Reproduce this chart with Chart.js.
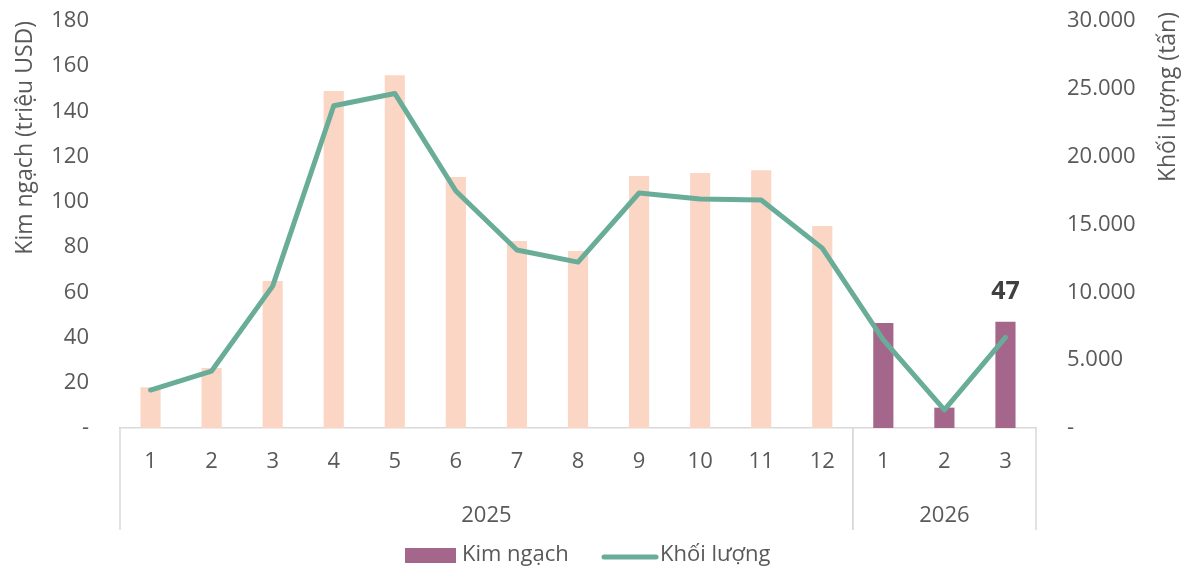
<!DOCTYPE html>
<html>
<head>
<meta charset="utf-8">
<script src="https://cdn.jsdelivr.net/npm/chart.js@4"></script>
<style>
  html, body { margin: 0; padding: 0; background: #fff; }
  #wrap { width: 1183px; height: 569px; }
</style>
</head>
<body>
<div id="wrap"><canvas id="chart" width="1183" height="569"></canvas></div>
<script>
// tháng theo từng năm
var months = ["1","2","3","4","5","6","7","8","9","10","11","12","1","2","3"];
var yearGroups = [
  { label: "2025", from: 0, to: 11 },
  { label: "2026", from: 12, to: 14 }
];
// kim ngạch (triệu USD)
var kimNgach = [18, 26.5, 65, 149, 156, 111, 82.7, 78.3, 111.5, 112.8, 114, 89.3, 46.4, 9, 47];
// khối lượng (tấn)
var khoiLuong = [2800, 4200, 10460, 23750, 24660, 17470, 13120, 12230, 17320, 16880, 16800, 13260, 6500, 1330, 6680];
var leftTicks = [0, 20, 40, 60, 80, 100, 120, 140, 160, 180];
var rightTicks = [0, 5000, 10000, 15000, 20000, 25000, 30000];

var PEACH = "#FBD6C5";
var PURPLE = "#A4668B";
var GREEN = "#69AD99";
var TEXT = "#595959";
var FONT = "'Open Sans', sans-serif";

var barColors = kimNgach.map(function(v, i){ return i >= 12 ? PURPLE : PEACH; });

function fmt(v){
  if (v === 0) return "-";
  return String(v).replace(/\B(?=(\d{3})+(?!\d))/g, ".");
}

// trục y: độ rộng cố định, bỏ padding trên/dưới để vùng vẽ sát mép
function fixY(w){
  return function(s){
    s.width = w;
    s.paddingTop = 0;
    s.paddingBottom = 0;
  };
}

// năm + đường phân cách dưới trục x
var yearAxis = {
  id: "yearAxis",
  afterDraw: function(chart){
    var ctx = chart.ctx, x = chart.scales.x, area = chart.chartArea;
    var step = x.getPixelForValue(1) - x.getPixelForValue(0);
    ctx.save();
    ctx.strokeStyle = "#D9D9D9";
    ctx.lineWidth = 1.5;
    ctx.fillStyle = TEXT;
    ctx.font = "22px " + FONT;
    ctx.textAlign = "center";
    ctx.textBaseline = "middle";
    yearGroups.forEach(function(g){
      var l = x.getPixelForValue(g.from) - step / 2;
      var r = x.getPixelForValue(g.to) + step / 2;
      [l, r].forEach(function(px){
        ctx.beginPath();
        ctx.moveTo(px, area.bottom);
        ctx.lineTo(px, area.bottom + 102);
        ctx.stroke();
      });
      ctx.fillText(g.label, (l + r) / 2, area.bottom + 88);
    });
    ctx.restore();
  }
};

// tiêu đề trục phải (xoay dọc, đọc từ dưới lên)
var rightTitle = {
  id: "rightTitle",
  afterDraw: function(chart){
    var ctx = chart.ctx;
    ctx.save();
    ctx.translate(1168, 12);
    ctx.rotate(-Math.PI / 2);
    ctx.fillStyle = TEXT;
    ctx.font = "23px " + FONT;
    ctx.textAlign = "right";
    ctx.textBaseline = "middle";
    ctx.fillText("Khối lượng (tấn)", 0, 0);
    ctx.restore();
  }
};

// nhãn giá trị cho cột cuối
var lastLabel = {
  id: "lastLabel",
  afterDatasetsDraw: function(chart){
    var meta = chart.getDatasetMeta(0);
    var i = kimNgach.length - 1;
    var bar = meta.data[i];
    var ctx = chart.ctx;
    ctx.save();
    ctx.fillStyle = "#404040";
    ctx.font = "bold 25px " + FONT;
    ctx.textAlign = "center";
    ctx.textBaseline = "bottom";
    ctx.fillText(String(kimNgach[i]), bar.x, bar.y - 17);
    ctx.restore();
  }
};

// chú thích
var legendBox = {
  id: "legendBox",
  afterDraw: function(chart){
    var ctx = chart.ctx;
    var y = 555;
    ctx.save();
    ctx.font = "22px " + FONT;
    ctx.textBaseline = "middle";
    ctx.fillStyle = PURPLE;
    ctx.fillRect(405, 548, 51, 15);
    ctx.fillStyle = TEXT;
    ctx.fillText(chart.data.datasets[0].label, 462, y);
    ctx.strokeStyle = GREEN;
    ctx.lineWidth = 5;
    ctx.lineCap = "round";
    ctx.beginPath();
    ctx.moveTo(604, y + 2);
    ctx.lineTo(656, y + 2);
    ctx.stroke();
    ctx.fillText(chart.data.datasets[1].label, 660, y);
    ctx.restore();
  }
};

new Chart(document.getElementById("chart"), {
  type: "bar",
  data: {
    labels: months,
    datasets: [
      {
        label: "Kim ngạch",
        data: kimNgach,
        backgroundColor: barColors,
        yAxisID: "y",
        barPercentage: 0.33,
        categoryPercentage: 1,
        order: 1
      },
      {
        type: "line",
        label: "Khối lượng",
        data: khoiLuong,
        borderColor: GREEN,
        borderWidth: 5,
        pointRadius: 0,
        tension: 0,
        borderJoinStyle: "round",
        borderCapStyle: "round",
        yAxisID: "y1",
        order: 0
      }
    ]
  },
  options: {
    responsive: false,
    animation: false,
    events: [],
    layout: { padding: { top: 21, left: 0, right: 0, bottom: 0 } },
    plugins: {
      legend: { display: false },
      tooltip: { enabled: false }
    },
    scales: {
      x: {
        offset: true,
        grid: { display: false, drawTicks: false },
        border: { display: true, color: "#D9D9D9", width: 1.5 },
        ticks: {
          color: TEXT,
          font: { family: FONT, size: 22 },
          padding: 21,
          autoSkip: false,
          maxRotation: 0
        },
        afterFit: function(s){ s.height = 141; }
      },
      y: {
        position: "left",
        min: 0,
        max: 180,
        afterBuildTicks: function(s){ s.ticks = leftTicks.map(function(v){ return { value: v }; }); },
        grid: { display: false, drawTicks: false },
        border: { display: false },
        ticks: {
          color: TEXT,
          font: { family: FONT, size: 22 },
          padding: 31,
          callback: function(v){ return v === 0 ? "-" : v; }
        },
        title: {
          display: true,
          text: "Kim ngạch (triệu USD)",
          align: "end",
          color: TEXT,
          font: { family: FONT, size: 23 },
          padding: { top: 12, bottom: 0 }
        },
        afterFit: fixY(120)
      },
      y1: {
        position: "right",
        min: 0,
        max: 30000,
        afterBuildTicks: function(s){ s.ticks = rightTicks.map(function(v){ return { value: v }; }); },
        grid: { display: false, drawTicks: false },
        border: { display: false },
        ticks: {
          color: TEXT,
          font: { family: FONT, size: 22 },
          padding: 31,
          callback: function(v){ return fmt(v); }
        },
        afterFit: fixY(147)
      }
    }
  },
  plugins: [yearAxis, rightTitle, lastLabel, legendBox]
});
</script>
</body>
</html>
